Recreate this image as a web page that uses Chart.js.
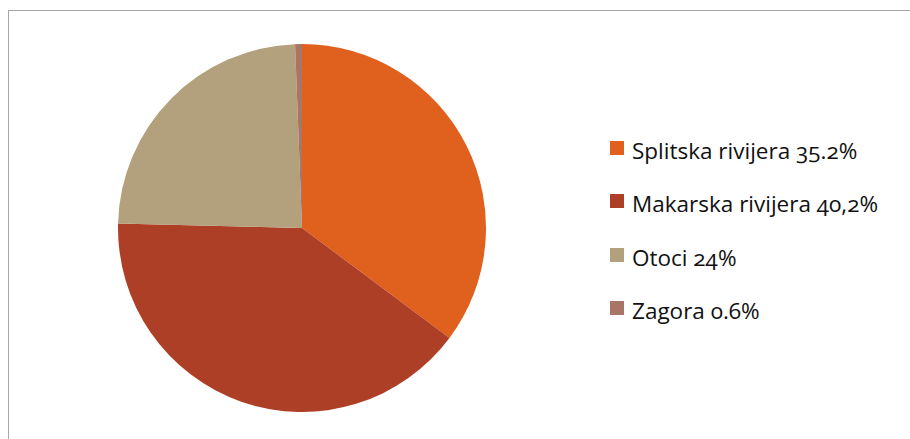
<!DOCTYPE html>
<html><head><meta charset="utf-8">
<script src="https://cdn.jsdelivr.net/npm/chart.js@4"></script>
<style>
html,body{margin:0;padding:0;background:#fff;width:910px;height:439px;overflow:hidden;}
#frame{position:absolute;left:8px;top:10px;width:1000px;height:1000px;border:1px solid #a6a6a6;box-sizing:border-box;}
#wrap{position:absolute;left:116px;top:42px;width:372px;height:372px;}
#legend{position:absolute;left:610px;top:136px;font-family:"Open Sans","Noto Sans",sans-serif;font-size:22.5px;line-height:30px;color:#111;font-variant-numeric:oldstyle-nums;}
.item{height:53.3px;display:flex;align-items:flex-start;white-space:nowrap;}
.sw{width:14px;height:14px;margin-top:5px;margin-right:8px;flex:none;}
</style></head>
<body>
<div id="frame"></div>
<div id="wrap"><canvas id="c" width="372" height="372"></canvas></div>
<div id="legend"></div>
<script>
const categories = ["Splitska rivijera 35.2%", "Makarska rivijera 40,2%", "Otoci 24%", "Zagora 0.6%"];
const values = [35.2, 40.2, 24, 0.6];
const colors = ["#E0601E", "#AE3F27", "#B3A07C", "#A97564"];

new Chart(document.getElementById('c'), {
  type: 'pie',
  data: { labels: categories, datasets: [{ data: values, backgroundColor: colors, borderWidth: 0 }] },
  options: {
    responsive: false, animation: false,
    layout: { padding: 2 },
    plugins: { legend: { display: false }, tooltip: { enabled: false } }
  }
});
const lg = document.getElementById('legend');
categories.forEach((c, i) => {
  const d = document.createElement('div'); d.className = 'item';
  d.innerHTML = '<span class="sw" style="background:' + colors[i] + '"></span><span>' + c + '</span>';
  lg.appendChild(d);
});
</script>
</body></html>
